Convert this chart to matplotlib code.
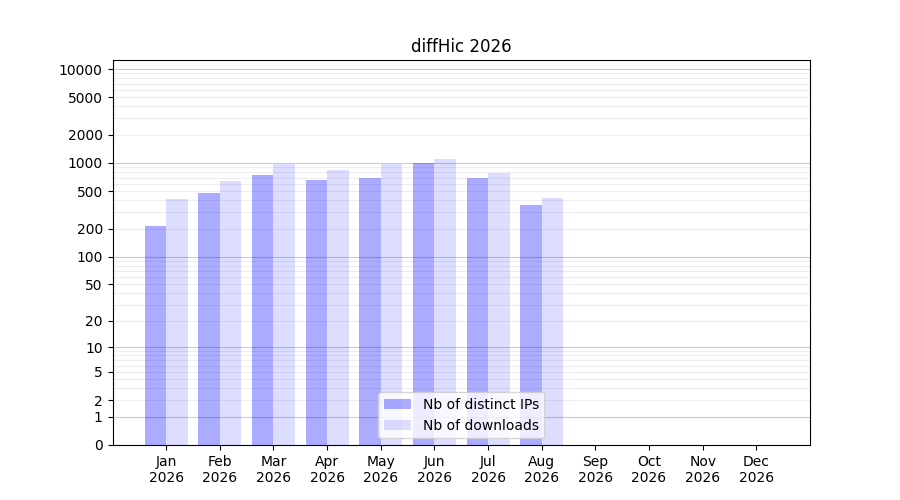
import numpy as np
import matplotlib
matplotlib.use('Agg')
import matplotlib.pyplot as plt

months = ['Jan', 'Feb', 'Mar', 'Apr', 'May', 'Jun', 'Jul', 'Aug', 'Sep', 'Oct', 'Nov', 'Dec']
year = '2026'
nb_ips = [213, 479, 745, 659, 692, 1000, 692, 357]
nb_downloads = [414, 643, 983, 843, 985, 1103, 788, 424]
ytick_values = [0, 1, 2, 5, 10, 20, 50, 100, 200, 500, 1000, 2000, 5000, 10000]


def forward(y):
    return np.log10(1 + np.maximum(y, 0))


def inverse(y):
    return 10 ** y - 1


fig, ax = plt.subplots(figsize=(9, 5), dpi=100)
ax.set_yscale('function', functions=(forward, inverse))

x = np.arange(1, len(nb_ips) + 1)
ax.bar(x, nb_ips, width=-0.4, align='edge', color='blue', alpha=0.33,
       label='Nb of distinct IPs')
ax.bar(x, nb_downloads, width=0.4, align='edge', color='blue', alpha=0.133,
       label='Nb of downloads')

# light grid every 1..9 x 10^k, darker at the decades
minor = [m * 10 ** k for k in range(0, 5) for m in range(2, 10)]
for v in minor:
    ax.axhline(v, color='#eeeeee', linewidth=0.8, zorder=0)
for k in range(0, 5):
    ax.axhline(10 ** k, color='#cccccc', linewidth=0.8, zorder=0)

ax.set_yticks(ytick_values)
ax.set_yticklabels([str(v) for v in ytick_values])
ax.set_ylim(0, 12470)

ax.set_xticks(np.arange(1, 13))
ax.set_xticklabels([m + '\n' + year for m in months])
ax.set_xlim(0, 13)

ax.set_title('diffHic ' + year)
ax.legend(loc='lower center')

plt.savefig('out.png')
